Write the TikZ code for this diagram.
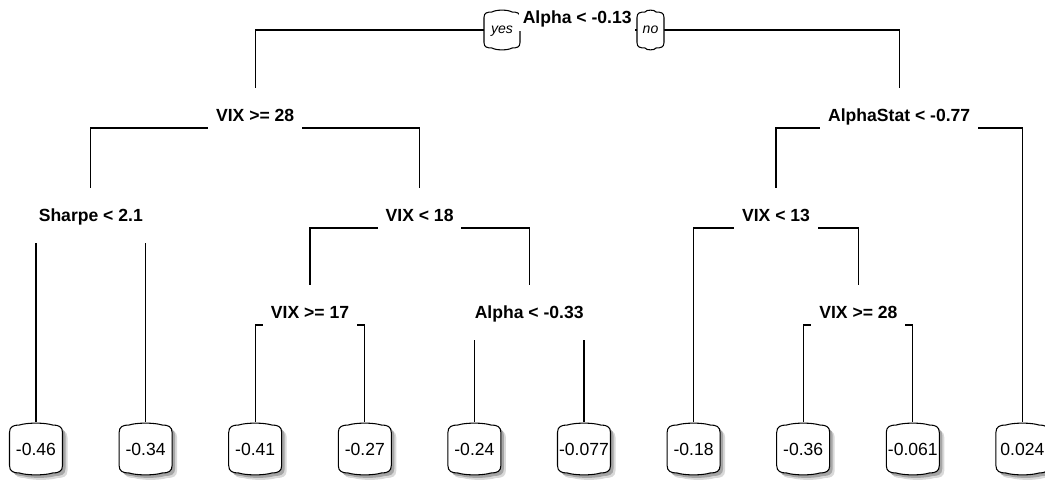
\documentclass[tikz,border=0pt]{standalone}
\usepackage{fontspec}
\setmainfont{Liberation Sans}
\usetikzlibrary{positioning, calc, backgrounds}

% outline of the rounded boxes: half width, half height, corner
\newcommand\bulgepath[3]{(-#1,{-(#2-#3)}) -- (-#1,{#2-#3})
  .. controls (-#1,{#2-#3*0.4}) and ({-#1+#3*0.4},{#2-2.5}) .. ({-#1+#3},{#2-2.5})
  .. controls ({-#1/3},#2) and ({#1/3},#2) .. ({#1-#3},{#2-2.5})
  .. controls ({#1-#3*0.4},{#2-2.5}) and (#1,{#2-#3*0.4}) .. (#1,{#2-#3})
  -- (#1,{-(#2-#3)})
  .. controls (#1,{-(#2-#3*0.4)}) and ({#1-#3*0.4},{-(#2-2.5)}) .. ({#1-#3},{-(#2-2.5)})
  .. controls ({#1/3},-#2) and ({-#1/3},-#2) .. ({-#1+#3},{-(#2-2.5)})
  .. controls ({-#1+#3*0.4},{-(#2-2.5)}) and (-#1,{-(#2-#3*0.4)}) .. (-#1,{-(#2-#3)}) -- cycle}

\tikzset{
  split/.style={font=\bfseries\fontsize{10}{12}\selectfont, fill=white, anchor=base, yshift=3.7pt,
    inner xsep=4.5pt, inner ysep=1.5pt, text height=17.7pt, text depth=3pt},
  lastsplit/.style={split, text depth=10.5pt, minimum width=2.4cm},
  leaf/.style={font=\fontsize{10}{12}\selectfont, inner sep=0pt, minimum width=1.06cm, minimum height=1.06cm},
  yesno/.style={font=\itshape\fontsize{8}{10}\selectfont, inner sep=0pt},
  edge/.style={line width=0.6pt},
  boxline/.style={line width=0.6pt, fill=white},
}

\begin{document}
\begin{tikzpicture}[x=0.02cm, y=-0.02cm]
\useasboundingbox (0,0) rectangle (1045,480);

% junctions of the splits
\coordinate (j1) at (577.2,30);
\coordinate (j2) at (255.2,128);
\coordinate (j3) at (899.2,128);
\coordinate (j4) at (90.8,228);
\coordinate (j5) at (419.6,228);
\coordinate (j6) at (776,228);
\coordinate (j7) at (310,325);
\coordinate (j8) at (529.2,325);
\coordinate (j9) at (858.4,325);

\node[split, inner xsep=2pt] (s1) at (j1) {Alpha < -0.13};
\node[split] (s2) at (j2) {VIX >= 28};
\node[split] (s3) at (j3) {AlphaStat < -0.77};
\node[lastsplit] (s4) at (j4) {Sharpe < 2.1};
\node[split] (s5) at (j5) {VIX < 18};
\node[split] (s6) at (j6) {VIX < 13};
\node[split] (s7) at (j7) {VIX >= 17};
\node[lastsplit] (s8) at (j8) {Alpha < -0.33};
\node[split] (s9) at (j9) {VIX >= 28};

\node[yesno] (yes) at (502,31) {yes};
\node[yesno] (no) at (650.5,30) {no};

% leaves
\foreach \v [count=\i] in {-0.46,-0.34,-0.41,-0.27,-0.24,-0.077,-0.18,-0.36,-0.061,0.024}
  \node[leaf] (l\i) at ({36+109.6*(\i-1)},449) {\v};

\begin{pgfonlayer}{background}
  \draw[edge] (j1) -| (j2);
  \draw[edge] (j1) -| (j3);
  \draw[edge] (j2) -| (j4);
  \draw[edge] (j2) -| (j5);
  \draw[edge] (j3) -| (j6);
  \draw[edge] (j3) -| (l10.north);
  \draw[edge] (j4) -| (l1.north);
  \draw[edge] (j4) -| (l2.north);
  \draw[edge] (j5) -| (j7);
  \draw[edge] (j5) -| (j8);
  \draw[edge] (j6) -| (l7.north);
  \draw[edge] (j6) -| (j9);
  \draw[edge] (j7) -| (l3.north);
  \draw[edge] (j7) -| (l4.north);
  \draw[edge] (j8) -| (l5.north);
  \draw[edge] (j8) -| (l6.north);
  \draw[edge] (j9) -| (l8.north);
  \draw[edge] (j9) -| (l9.north);

  \begin{scope}[shift={(yes)}, yshift=0.02cm]
    \draw[boxline] \bulgepath{18}{20.5}{8};
  \end{scope}
  \begin{scope}[shift={(no)}]
    \draw[boxline] \bulgepath{13.5}{20.5}{8};
  \end{scope}

  \foreach \i in {1,...,10}{
    \begin{scope}[shift={(l\i)}]
      \fill[black!15, shift={(5,5)}] \bulgepath{26.5}{26.5}{10};
      \fill[black!35, shift={(3,3)}] \bulgepath{26.5}{26.5}{10};
      \draw[boxline] \bulgepath{26.5}{26.5}{10};
    \end{scope}
  }
\end{pgfonlayer}
\end{tikzpicture}
\end{document}
